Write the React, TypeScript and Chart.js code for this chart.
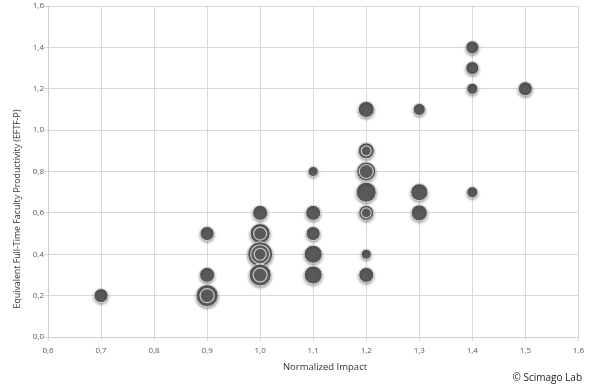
import React, { useEffect, useRef } from "react";
import { Chart, registerables } from "chart.js";

Chart.register(...registerables);

// Base bubbles: [normalized impact, EFTF-P, radius(px)]
const baseX = [0.7, 0.9, 0.9, 0.9, 1.0, 1.0, 1.0, 1.0, 1.1, 1.1, 1.1, 1.1, 1.1, 1.2, 1.2, 1.2, 1.2, 1.2, 1.2, 1.2, 1.3, 1.3, 1.3, 1.4, 1.4, 1.4, 1.4, 1.5];
const baseY = [0.2, 0.5, 0.3, 0.2, 0.6, 0.5, 0.4, 0.3, 0.8, 0.6, 0.5, 0.4, 0.3, 1.1, 0.9, 0.8, 0.7, 0.6, 0.4, 0.3, 1.1, 0.7, 0.6, 1.4, 1.3, 1.2, 0.7, 1.2];
const baseR = [7, 7, 7.5, 11, 7.5, 10, 12.5, 11, 5, 7.5, 7, 9, 9, 8, 8, 9.5, 10, 7.5, 5, 7.5, 6, 8.5, 8, 6.5, 6.5, 5.5, 5.5, 7];

// Overlapping (smaller) bubbles at the same positions
const innerX = [0.9, 1.0, 1.0, 1.0, 1.2, 1.2, 1.2];
const innerY = [0.2, 0.5, 0.4, 0.3, 0.9, 0.8, 0.6];
const innerR = [7, 6.5, 9.5, 7, 5, 7, 5];

const coreX = [1.0];
const coreY = [0.4];
const coreR = [6];

const xTicks = [0.6, 0.7, 0.8, 0.9, 1.0, 1.1, 1.2, 1.3, 1.4, 1.5, 1.6];
const yTicks = [0.0, 0.2, 0.4, 0.6, 0.8, 1.0, 1.2, 1.4, 1.6];

const xTitle = "Normalized Impact";
const yTitle = "Equivalent Full-Time Faculty Productivity (EFTF-P)";
const credit = "© Scimago Lab";

const FONT = "'Open Sans', sans-serif";
const fmt = (v: number) => v.toFixed(1).replace(".", ",");

const toPts = (xs: number[], ys: number[], rs: number[]) =>
  xs.map((x, i) => ({ x, y: ys[i], r: rs[i] }));

export default function App() {
  const ref = useRef<HTMLCanvasElement | null>(null);

  useEffect(() => {
    if (!ref.current) return;

    const shadowPlugin = {
      id: "bubbleShadow",
      beforeDatasetDraw(chart: any, args: any) {
        const ctx = chart.ctx;
        ctx.save();
        if (args.index === 0) {
          ctx.shadowColor = "rgba(0,0,0,0.35)";
          ctx.shadowBlur = 3;
          ctx.shadowOffsetY = 1.5;
        }
      },
      afterDatasetDraw(chart: any) {
        chart.ctx.restore();
      },
    };

    const textPlugin = {
      id: "extraText",
      afterDraw(chart: any) {
        const ctx = chart.ctx;
        ctx.save();
        ctx.fillStyle = "#333";
        ctx.font = `9.5px ${FONT}`;
        ctx.textAlign = "center";
        ctx.textBaseline = "middle";
        ctx.fillText(xTitle, 325, 367);
        ctx.textAlign = "right";
        ctx.font = `10px ${FONT}`;
        ctx.fillStyle = "#222";
        ctx.fillText(credit, 582, 378);
        ctx.translate(17, 209);
        ctx.rotate(-Math.PI / 2);
        ctx.textAlign = "center";
        ctx.font = `8.8px ${FONT}`;
        ctx.fillStyle = "#333";
        ctx.fillText(yTitle, 0, 0);
        ctx.restore();
      },
    };

    const chart = new Chart(ref.current, {
      type: "bubble",
      data: {
        datasets: [
          {
            data: toPts(baseX, baseY, baseR),
            backgroundColor: "#595959",
            borderColor: "#d4d4d4",
            borderWidth: 1,
            order: 3,
          },
          {
            data: toPts(innerX, innerY, innerR),
            backgroundColor: "#595959",
            borderColor: "#c8c8c8",
            borderWidth: 1.2,
            order: 2,
          },
          {
            data: toPts(coreX, coreY, coreR),
            backgroundColor: "#595959",
            borderColor: "#c8c8c8",
            borderWidth: 1.2,
            order: 1,
          },
        ],
      },
      options: {
        animation: false,
        responsive: true,
        maintainAspectRatio: false,
        layout: { autoPadding: false, padding: { top: 6, right: 10, left: 0, bottom: 0 } },
        plugins: {
          legend: { display: false },
          tooltip: { enabled: false },
        },
        elements: { point: { hoverRadius: 0 } },
        scales: {
          x: {
            type: "linear",
            min: 0.6,
            max: 1.6,
            afterBuildTicks: (s: any) => {
              s.ticks = xTicks.map((v) => ({ value: v }));
            },
            afterFit: (s: any) => {
              s.height = 48;
            },
            grid: { color: "#d9d9d9", lineWidth: 1, tickLength: 4 },
            border: { color: "#cfcfcf" },
            ticks: {
              color: "#595959",
              font: { family: FONT, size: 8 },
              padding: 5,
              maxRotation: 0,
              callback: (v: any) => fmt(Number(v)),
            },
          },
          y: {
            type: "linear",
            min: 0,
            max: 1.6,
            afterBuildTicks: (s: any) => {
              s.ticks = yTicks.map((v) => ({ value: v }));
            },
            afterFit: (s: any) => {
              s.width = 48;
            },
            grid: { color: "#d9d9d9", lineWidth: 1, tickLength: 4 },
            border: { color: "#cfcfcf" },
            ticks: {
              color: "#595959",
              font: { family: FONT, size: 8 },
              padding: 0,
              callback: (v: any) => fmt(Number(v)),
            },
          },
        },
      },
      plugins: [shadowPlugin, textPlugin],
    });

    return () => chart.destroy();
  }, []);

  return (
    <div style={{ position: "fixed", left: 0, top: 0, width: 589, height: 385, background: "#fff" }}>
      <canvas ref={ref} />
    </div>
  );
}
